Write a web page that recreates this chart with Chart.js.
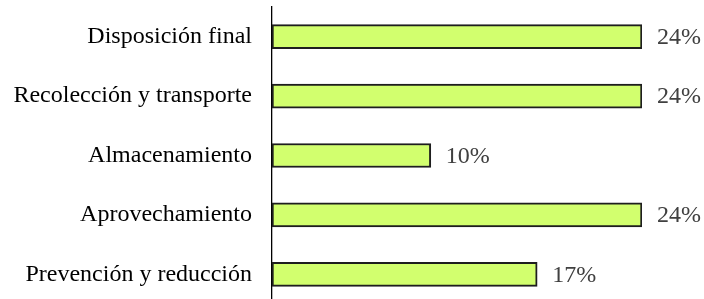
<!DOCTYPE html>
<html>
<head>
<meta charset="utf-8">
<script src="https://cdn.jsdelivr.net/npm/chart.js@4.4.0/dist/chart.umd.min.js"></script>
<style>
html, body { margin: 0; padding: 0; background: #fff; overflow: hidden; }
canvas { display: block; }
</style>
</head>
<body>
<canvas id="c" width="704" height="304" style="width:704px;height:304px"></canvas>
<script>
const categories = ["Disposición final", "Recolección y transporte", "Almacenamiento", "Aprovechamiento", "Prevención y reducción"];
const values = [24, 24, 10.3, 24, 17.2];
const valueLabels = ["24%", "24%", "10%", "24%", "17%"];

const FONT = "'Liberation Serif', 'Times New Roman', serif";

const valueLabelPlugin = {
  id: 'valueLabels',
  afterDatasetsDraw(chart) {
    const ctx = chart.ctx;
    const meta = chart.getDatasetMeta(0);
    ctx.save();
    ctx.font = "24px " + FONT;
    ctx.fillStyle = "#404040";
    ctx.textAlign = "left";
    ctx.textBaseline = "middle";
    meta.data.forEach((bar, i) => {
      ctx.fillText(valueLabels[i], bar.x + 15, bar.y + 1);
    });
    ctx.restore();
  }
};

new Chart(document.getElementById('c'), {
  type: 'bar',
  data: {
    labels: categories,
    datasets: [{
      data: values,
      backgroundColor: '#d2ff6e',
      borderColor: '#1e1e1e',
      borderWidth: 2,
      borderSkipped: false,
      barThickness: 24
    }]
  },
  options: {
    indexAxis: 'y',
    responsive: false,
    animation: false,
    layout: { autoPadding: false, padding: { top: 7, right: 62, bottom: 0, left: 0 } },
    plugins: { legend: { display: false }, tooltip: { enabled: false } },
    scales: {
      x: {
        display: false,
        min: 0,
        max: 24
      },
      y: {
        afterFit(scale) { scale.width = 272; scale.paddingTop = 0; scale.paddingBottom = 0; },
        grid: { display: false, drawTicks: false },
        border: { display: true, color: '#000', width: 1.3 },
        ticks: {
          padding: 20,
          color: '#000',
          font: { family: FONT, size: 24 }
        }
      }
    }
  },
  plugins: [valueLabelPlugin]
});
</script>
</body>
</html>
